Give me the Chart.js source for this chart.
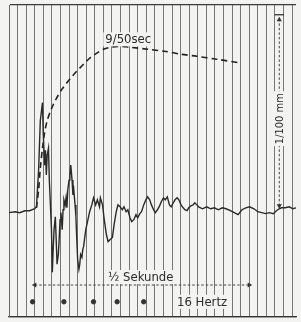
<!DOCTYPE html>
<html><head><meta charset="utf-8">
<script src="https://cdn.jsdelivr.net/npm/chart.js@4"></script>
<style>html,body{margin:0;padding:0;background:#f3f3f1;overflow:hidden}#wrap{width:301px;height:322px}</style>
</head><body><div id="wrap"><canvas id="c" width="301" height="322"></canvas></div>
<script>
// Time in ms, deflection in micrometres (1/100 mm = 10 µm)
const traceTime = [0,14,25,37,48,60,64,69,73,78,80,83,85,87,89,92,94,96,99,101,103,105,108,110,112,115,117,119,121,124,126,128,131,133,135,137,140,142,144,147,149,151,154,156,158,160,163,165,167,170,172,174,176,179,183,188,193,197,202,206,211,213,218,222,227,231,236,241,245,250,254,259,264,268,273,277,282,286,291,296,300,305,309,314,319,323,328,332,337,341,346,351,355,360,364,369,374,378,383,387,392,396,401,406,410,415,419,424,429,433,438,442,451,461,470,479,488,497,506,516,525,534,543,552,561,571,580,589,598,607,616,626,635,644,653,662,669];
const traceDeflection = [-0.15,-0.10,-0.15,-0.05,-0.05,0.05,0.15,2.03,4.57,5.49,3.81,2.29,3.05,1.78,2.79,3.15,1.52,0.51,-1.02,-3.20,-2.03,-1.02,-0.36,-1.52,-2.79,-2.29,-1.52,-0.51,-0.15,-1.02,0,0.51,0.25,0.61,0.10,1.02,1.52,1.78,2.29,1.52,0.76,1.02,0.25,-0.36,-1.52,-2.54,-3.05,-2.79,-2.29,-2.44,-2.03,-1.88,-1.52,-1.02,-0.61,-0.10,0.25,0.61,0.25,0.51,0.15,0.61,0.25,-0.51,-1.27,-1.63,-1.52,-1.42,-0.76,-0.10,0.25,0.15,0,0.15,-0.10,0,-0.41,-0.61,-0.51,-0.25,-0.41,-0.20,-0.10,0.25,0.51,0.66,0.51,0.25,0,-0.15,0,0.20,0.41,0.61,0.51,0.66,0.25,0.15,0.36,0.51,0.61,0.51,0.25,0.10,0,-0.05,0.10,0.20,0.25,0.36,0.25,0.15,0.05,0.15,0.05,0.10,0,0.10,0.05,-0.05,-0.15,-0.25,0,0.10,0.15,0.05,-0.10,-0.15,-0.20,-0.15,-0.20,0,0.10,0.10,0.15,0.05,0.10];
const envelopeTime = [64,69,73,78,83,89,99,110,124,140,156,172,188,204,220,236,254,284,323,362,403,438,484,541];
const envelopeDeflection = [0.10,1.02,2.13,3.15,3.96,4.57,5.18,5.69,6.20,6.65,7.06,7.42,7.77,8.02,8.23,8.33,8.38,8.33,8.23,8.13,7.97,7.87,7.72,7.52];
const markTime = [55,128,197,252,314];          // 16 Hz timing marks
const markRow = [-4.72,-4.72,-4.72,-4.72,-4.72];
const halfSecondTime = [60,560];
const halfSecondRow = [-3.86,-3.86];
const scaleArrowTime = [630,630];
const scaleArrowDeflection = [0.2,9.75];
const scaleBarTime = [619,641];
const scaleBarDeflection = [10,10];
const gridTicks = [0,20,40,60,80,100,120,140,160,180,200,220,240,260,280,300,320,340,360,380,400,420,440,460,480,500,520,540,560,580,600,620,640,660];

const pts = (xs, ys) => xs.map((x, i) => ({x, y: ys[i]}));
const ink = '#2a2a2a';
const FONT = "'DejaVu Sans Condensed','Liberation Sans Narrow','DejaVu Sans',sans-serif";

const labelPlugin = {
  id: 'labels',
  afterDatasetsDraw(chart, args, opts) {
    const {ctx, scales: {x, y}} = chart;
    opts.items.forEach(it => {
      ctx.save();
      ctx.font = it.font;
      ctx.textAlign = 'center';
      ctx.textBaseline = 'middle';
      ctx.translate(x.getPixelForValue(it.t), y.getPixelForValue(it.v));
      if (it.rotate) ctx.rotate(it.rotate);
      const w = ctx.measureText(it.text).width;
      ctx.fillStyle = '#f3f3f1';
      ctx.fillRect(-w / 2 - 2, -it.h / 2, w + 4, it.h);
      ctx.fillStyle = ink;
      ctx.fillText(it.text, 0, 0.5);
      ctx.restore();
    });
  }
};

new Chart(document.getElementById('c'), {
  type: 'line',
  data: {
    datasets: [
      {data: pts(traceTime, traceDeflection), borderColor: ink, borderWidth: 1.4, pointRadius: 0, tension: 0},
      {data: pts(envelopeTime, envelopeDeflection), borderColor: '#222', borderWidth: 1.6, borderDash: [6, 4], pointRadius: 0, tension: 0.3},
      {type: 'scatter', data: pts(markTime, markRow), pointRadius: 2.2, backgroundColor: '#333', borderColor: '#333', showLine: false},
      {data: pts(halfSecondTime, halfSecondRow), borderColor: '#444', borderWidth: 1, borderDash: [2.5, 2], pointStyle: 'triangle', pointRotation: [-90, 90], pointRadius: 3, backgroundColor: '#333', pointBorderWidth: 0},
      {data: pts(scaleArrowTime, scaleArrowDeflection), borderColor: '#444', borderWidth: 1, borderDash: [2.5, 2], pointStyle: 'triangle', pointRotation: [180, 0], pointRadius: 3, backgroundColor: '#333', pointBorderWidth: 0},
      {data: pts(scaleBarTime, scaleBarDeflection), borderColor: '#333', borderWidth: 1.3, pointRadius: 0}
    ]
  },
  options: {
    responsive: false, animation: false, devicePixelRatio: 1,
    layout: {padding: {left: 9, right: 0, top: 3, bottom: 4}},
    plugins: {
      legend: {display: false}, tooltip: {enabled: false},
      labels: {items: [
        {text: '9/50sec', t: 278, v: 8.74, font: '13px ' + FONT, h: 14},
        {text: '½ Sekunde', t: 307, v: -3.45, font: '13px ' + FONT, h: 14},
        {text: '16 Hertz', t: 450, v: -4.72, font: '13px ' + FONT, h: 14},
        {text: '1/100 mm', t: 630, v: 4.67, font: '11px ' + FONT, h: 12, rotate: -Math.PI / 2}
      ]}
    },
    scales: {
      x: {
        type: 'linear', min: 0, max: 669,
        afterBuildTicks: s => { s.ticks = gridTicks.map(v => ({value: v})); },
        ticks: {display: false},
        grid: {color: '#767676', lineWidth: 1, drawTicks: false},
        border: {display: true, color: '#333', width: 1.3}
      },
      y: {
        min: -5.5, max: 10.5,
        afterBuildTicks: s => { s.ticks = [{value: -5.5}, {value: 10.5}]; },
        ticks: {display: false},
        grid: {color: '#3a3a3a', lineWidth: 1.3, drawTicks: false},
        border: {display: true, color: '#666', width: 1}
      }
    }
  },
  plugins: [labelPlugin]
});
</script></body></html>
